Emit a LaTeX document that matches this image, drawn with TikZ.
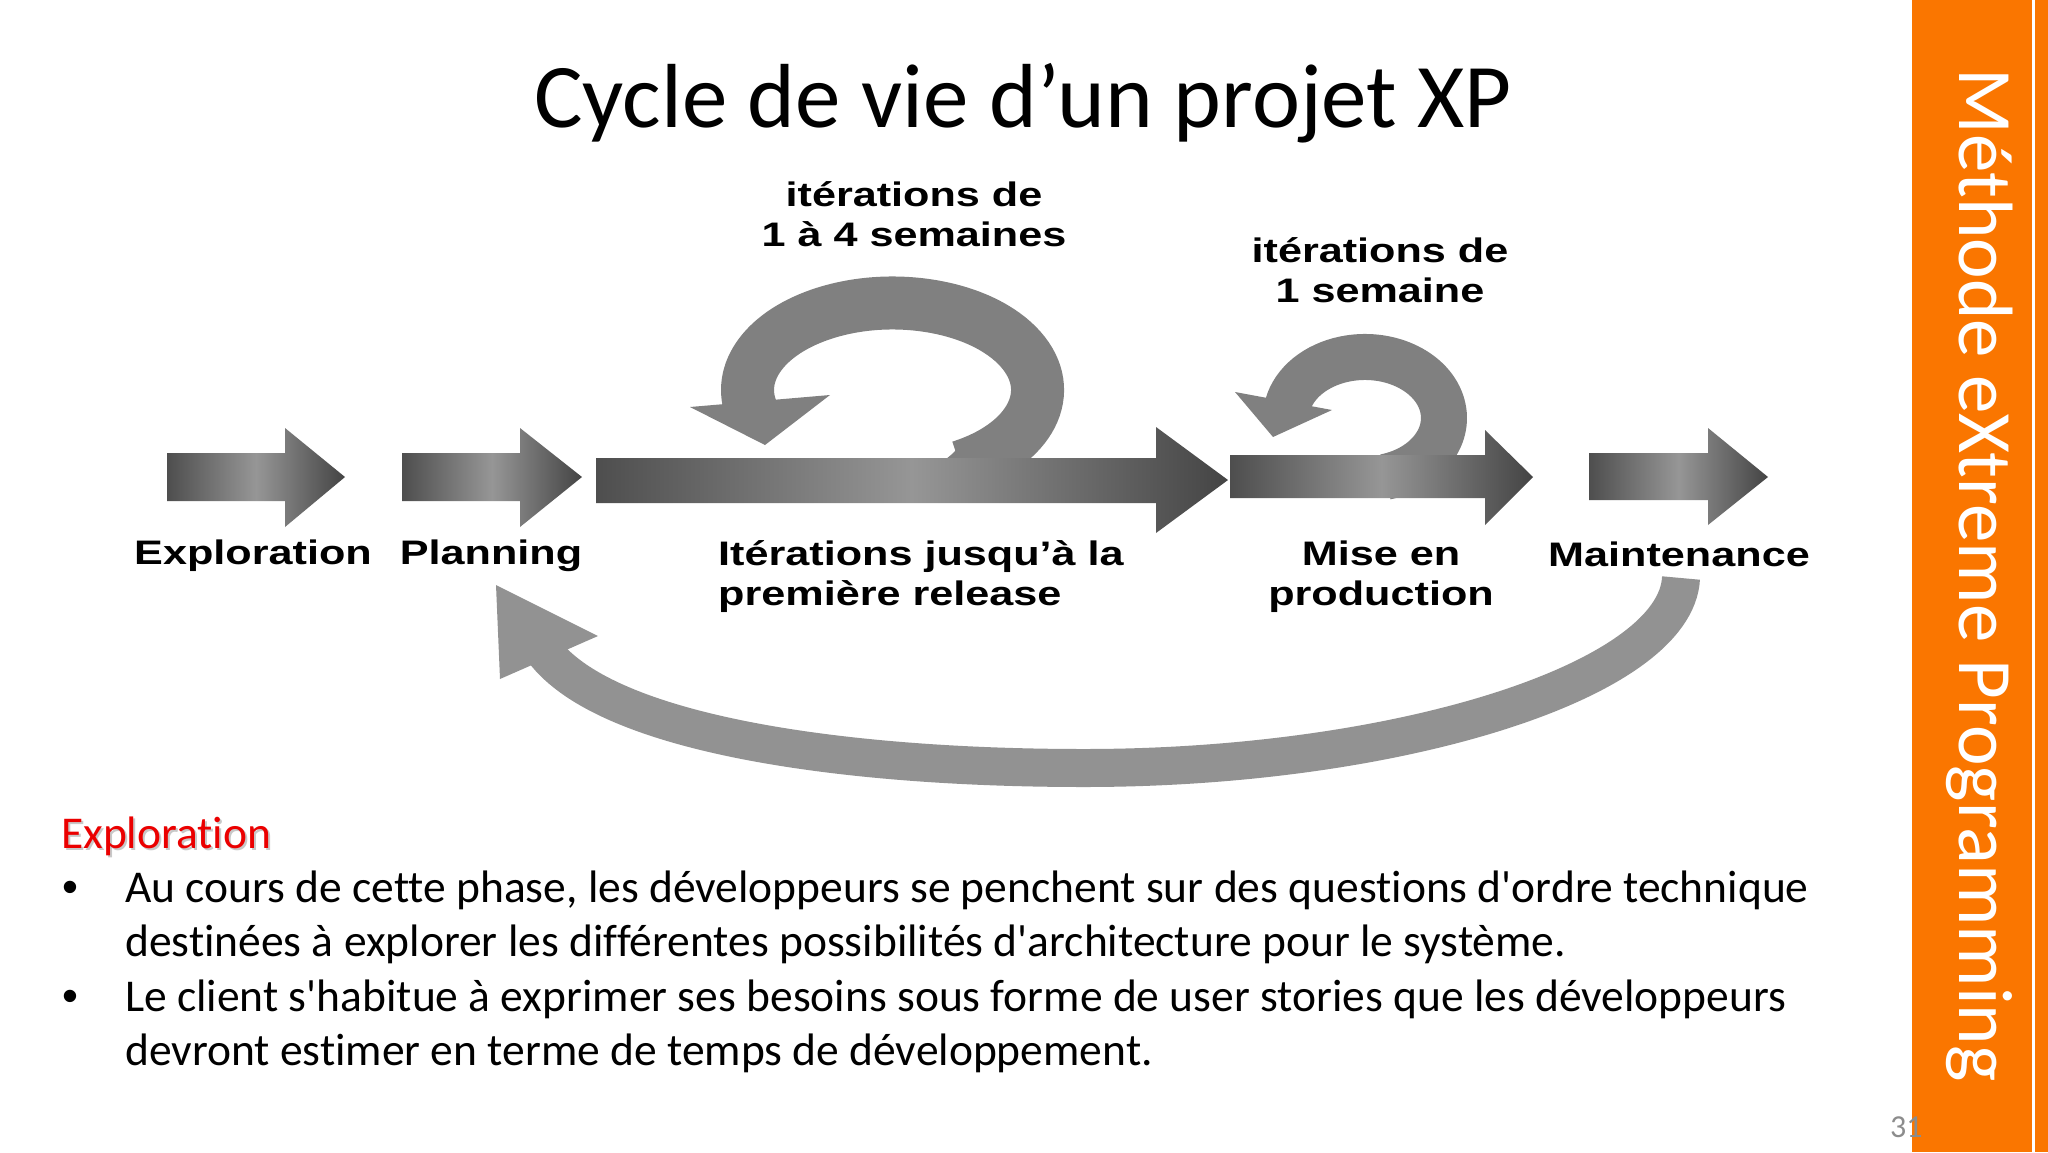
\documentclass[tikz,border=0pt]{standalone}
\usepackage{fontspec}
\setmainfont{Carlito}[Ligatures={TeXOff,NoCommon}]
\newfontfamily\diagfont[FakeStretch=1.27]{Liberation Sans}
\newfontfamily\bulletfont{Liberation Sans}
\definecolor{orangebar}{RGB}{250,118,0}
\definecolor{loopgray}{RGB}{128,128,128}
\definecolor{retgray}{RGB}{146,146,146}
\definecolor{ardark}{RGB}{78,78,78}
\definecolor{arlight}{RGB}{150,150,150}
\definecolor{arhead}{RGB}{68,68,68}
\definecolor{headred}{RGB}{235,0,0}
\definecolor{pagegray}{RGB}{140,140,140}
\definecolor{shadowgray}{RGB}{200,200,200}
\begin{document}
\begin{tikzpicture}[x=1pt,y=-1pt,
  blockarrow/.style={left color=ardark, right color=arhead, middle color=arlight, draw=none},
  lbl/.style={font=\diagfont\bfseries\fontsize{34}{40}\selectfont, inner sep=0pt, anchor=base},
  lblw/.style={lbl, anchor=base west},
  body/.style={font=\fontsize{45.5}{54}\selectfont, inner sep=0pt, anchor=base west},
  bul/.style={font=\bulletfont\fontsize{45.5}{54}\selectfont, inner sep=0pt, anchor=base west},
]
\useasboundingbox (0,0) rectangle (2048,1152);
\fill[white] (0,0) rectangle (2048,1152);

% side bar
\fill[orangebar] (1912,0) rectangle (2048,1152);
\fill[white] (2032,0) rectangle (2034.5,1152);
\node[rotate=-90, anchor=base, inner sep=0pt, text=white, font=\fontsize{77}{80}\selectfont] (side) at (1959,575) {Méthode eXtreme Programming};
\node[anchor=base west, inner sep=0pt, text=pagegray, font=\fontsize{32}{34}\selectfont] (pg) at (1890,1137) {31};

% title
\node[anchor=base, inner sep=0pt, font=\fontsize{91}{100}\selectfont] (title) at (1023,127) {Cycle de vie d’un projet XP};

% big loop (behind the shaft)
\draw[loopgray, line width=53] (960.6,466.8) arc[start angle=62, end angle=-194, x radius=145, y radius=87];
\fill[loopgray] (960.6,440.4) .. controls (956,451) .. (946,459) -- (975,459) -- cycle;
\fill[loopgray] (690,407) -- (830,395) -- (765,445) -- cycle;

% small loop (behind the shaft)
\draw[loopgray, line width=46] (1385.4,476.9) arc[start angle=75, end angle=-168, x radius=79, y radius=61];
\fill[loopgray] (1235,392) -- (1332,410) -- (1273,437) -- cycle;

% straight block arrows
\path[blockarrow] (167,453) -- (285,453) -- (285,428) -- (345,477) -- (285,527) -- (285,501) -- (167,501) -- cycle;
\path[blockarrow] (402,453) -- (520,453) -- (520,428) -- (582,477) -- (520,527) -- (520,501) -- (402,501) -- cycle;
\path[blockarrow] (596,458) -- (1156,458) -- (1156,427) -- (1228,480) -- (1156,533) -- (1156,503) -- (596,503) -- cycle;
\path[blockarrow] (1230,455) -- (1485,455) -- (1485,430) -- (1533,477) -- (1485,525) -- (1485,498) -- (1230,498) -- cycle;
\path[blockarrow] (1589,453) -- (1708,453) -- (1708,428) -- (1768,477) -- (1708,525) -- (1708,500) -- (1589,500) -- cycle;

% return arrow
\draw[retgray, line width=38] (1681,578) .. controls (1676,680) and (1400,768) .. (1084,768) .. controls (850,768) and (607,736) .. (543,650);
\fill[retgray] (598,636) -- (496,585) -- (500,679) -- cycle;

% diagram labels
\node[lbl] (lexp) at (253,564) {Exploration};
\node[lbl] (lpla) at (491,564) {Planning};
\node[lblw] (lit1) at (718,565) {Itérations jusqu’à la};
\node[lblw] (lit2) at (718,605) {première release};
\node[lbl] (lmis1) at (1381,565) {Mise en};
\node[lbl] (lmis2) at (1381,605) {production};
\node[lbl] (lmai) at (1679,566) {Maintenance};
\node[lbl] (lt1) at (914,206) {itérations de};
\node[lbl] (lt2) at (914,246) {1 à 4 semaines};
\node[lbl] (lt3) at (1380,262) {itérations de};
\node[lbl] (lt4) at (1380,302) {1 semaine};

% body text
\node[body, text=shadowgray] (hs) at (63,850) {Exploration};
\node[body, text=headred] (h) at (61,848) {Exploration};
\node[bul] (b1) at (62,902) {•};
\node[body] (l1) at (125,902) {Au cours de cette phase, les développeurs se penchent sur des questions d'ordre technique};
\node[body] (l2) at (125,956) {destinées à explorer les différentes possibilités d'architecture pour le système.};
\node[bul] (b2) at (62,1011) {•};
\node[body] (l3) at (125,1011) {Le client s'habitue à exprimer ses besoins sous forme de user stories que les développeurs};
\node[body] (l4) at (125,1065) {devront estimer en terme de temps de développement.};
\end{tikzpicture}
\end{document}
